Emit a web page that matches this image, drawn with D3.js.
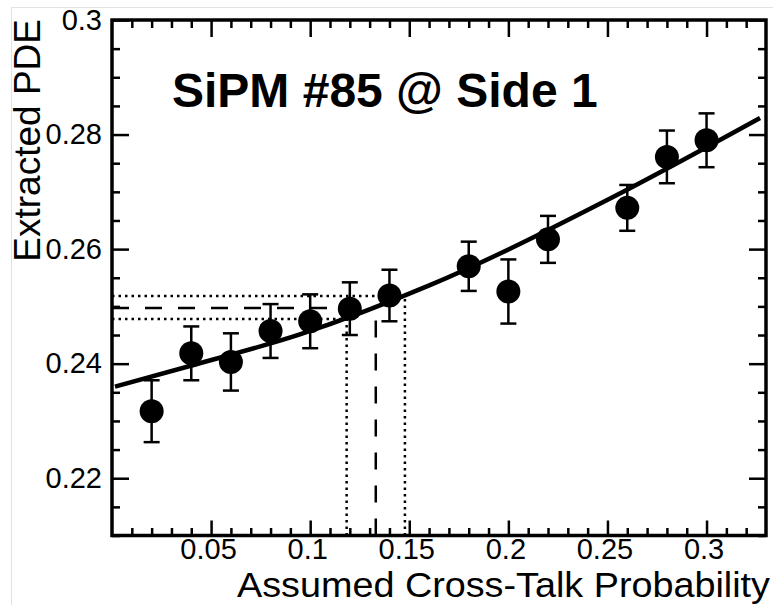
<!DOCTYPE html>
<html lang="en">
	<head>
		<meta charset="utf-8">
		<title>SiPM #85 PDE vs Cross-Talk</title>
		<script src="https://d3js.org/d3.v7.min.js"></script>
		<style type="text/css">
			body {
				margin: 0;
				background: white;
			}
			text {
				font-family: "Liberation Sans", Arial, Helvetica, sans-serif;
				fill: black;
			}
		</style>
	</head>
	<body>
		<script type="text/javascript">

			//Measured points
			var ctp = [0.02, 0.04, 0.06, 0.08, 0.10, 0.12, 0.14, 0.18, 0.20, 0.22, 0.26, 0.28, 0.30];
			var pde = [0.2317, 0.2418, 0.2403, 0.2457, 0.2474, 0.2496, 0.2519, 0.2570, 0.2526, 0.2617, 0.2672, 0.2761, 0.2790];
			var pdeErr = [0.0054, 0.0047, 0.0050, 0.0047, 0.0047, 0.0046, 0.0045, 0.0043, 0.0056, 0.0041, 0.0040, 0.0046, 0.0047];

			//Fit curve
			var fitX = [0.0015, 0.0393, 0.0948, 0.1604, 0.2511, 0.327];
			var fitY = [0.2360, 0.2396, 0.2451, 0.2537, 0.2688, 0.2829];

			//Extracted value and its band
			var markCtp = [0.1184, 0.1331, 0.1478];
			var markPde = [0.2478, 0.2497, 0.2518];
			var markStyle = ["dot", "dash", "dot"];

			//Tick labels
			var xTicks = [0.05, 0.1, 0.15, 0.2, 0.25, 0.3];
			var yTicks = [0.22, 0.24, 0.26, 0.28, 0.3];

			//Width and height
			var w = 773;
			var h = 605;
			var padL = 112, padR = 766, padT = 20, padB = 535.5;

			//Create scale functions
			var xScale = d3.scaleLinear()
					.domain([0, 0.33])
					.range([padL, padR]);

			var yScale = d3.scaleLinear()
					.domain([0.21, 0.3])
					.range([padB, padT]);

			//Minor ticks
			var xMinor = d3.range(1, 33).map(function(i) { return i / 100; })
					.filter(function(d) { return Math.round(d * 100) % 5 != 0; });
			var yMinor = d3.range(0, 19).map(function(i) { return 0.21 + i * 0.005; })
					.filter(function(d) { return Math.round(d * 1000) % 20 != 0 && d < 0.2999; });

			//Create SVG element
			var svg = d3.select("body")
						.append("svg")
						.attr("width", w)
						.attr("height", h);

			//Light page border
			svg.append("rect")
				.attr("x", 11.5)
				.attr("y", 7.5)
				.attr("width", 762)
				.attr("height", 602)
				.attr("fill", "none")
				.attr("stroke", "#e2e2e2")
				.attr("stroke-width", 1);

			//Dashed and dotted guide lines
			var dashes = { dot: "2.5,4", dash: "17,16" };
			markCtp.forEach(function(c, i) {
				svg.append("path")
					.attr("d", "M" + xScale(0) + "," + yScale(markPde[i]) + "H" + xScale(c))
					.attr("fill", "none")
					.attr("stroke", "black")
					.attr("stroke-width", 2.5)
					.attr("stroke-dasharray", dashes[markStyle[i]]);
				svg.append("path")
					.attr("d", "M" + xScale(c) + "," + yScale(0.21) + "V" + yScale(markPde[i]))
					.attr("fill", "none")
					.attr("stroke", "black")
					.attr("stroke-width", 2.5)
					.attr("stroke-dasharray", dashes[markStyle[i]]);
			});

			//Fit curve
			var line = d3.line()
					.x(function(d, i) { return xScale(fitX[i]); })
					.y(function(d, i) { return yScale(fitY[i]); })
					.curve(d3.curveMonotoneX);

			svg.append("path")
				.attr("d", line(fitX))
				.attr("fill", "none")
				.attr("stroke", "black")
				.attr("stroke-width", 4.5);

			//Error bars
			var bars = svg.selectAll("g.err")
				.data(ctp)
				.enter()
				.append("g")
				.attr("class", "err")
				.attr("stroke", "black")
				.attr("stroke-width", 2.5);

			bars.append("line")
				.attr("x1", function(d) { return xScale(d); })
				.attr("x2", function(d) { return xScale(d); })
				.attr("y1", function(d, i) { return yScale(pde[i] - pdeErr[i]); })
				.attr("y2", function(d, i) { return yScale(pde[i] + pdeErr[i]); });

			[-1, 1].forEach(function(s) {
				bars.append("line")
					.attr("x1", function(d) { return xScale(d) - 8; })
					.attr("x2", function(d) { return xScale(d) + 8; })
					.attr("y1", function(d, i) { return yScale(pde[i] + s * pdeErr[i]); })
					.attr("y2", function(d, i) { return yScale(pde[i] + s * pdeErr[i]); });
			});

			//Create circles
			svg.selectAll("circle")
			   .data(ctp)
			   .enter()
			   .append("circle")
			   .attr("cx", function(d) { return xScale(d); })
			   .attr("cy", function(d, i) { return yScale(pde[i]); })
			   .attr("r", 12)
			   .attr("fill", "black");

			//Axes, ticks pointing inward on all four sides
			function styleAxis(g) {
				g.select(".domain").remove();
				g.selectAll(".tick line").attr("stroke", "black").attr("stroke-width", 2.5);
			}

			svg.append("g")
				.attr("transform", "translate(0," + padB + ")")
				.call(d3.axisBottom(xScale).tickValues(xTicks).tickSize(-15).tickPadding(3).tickFormat(function(d) { return d; }))
				.call(styleAxis)
				.selectAll("text")
				.attr("dx", -3)
				.attr("font-size", "29px");

			svg.append("g")
				.attr("transform", "translate(0," + padB + ")")
				.call(d3.axisBottom(xScale).tickValues(xMinor).tickSize(-7.5).tickFormat(""))
				.call(styleAxis);

			svg.append("g")
				.attr("transform", "translate(0," + padT + ")")
				.call(d3.axisTop(xScale).tickValues(xTicks).tickSize(-17).tickFormat(""))
				.call(styleAxis);

			svg.append("g")
				.attr("transform", "translate(0," + padT + ")")
				.call(d3.axisTop(xScale).tickValues(xMinor).tickSize(-8).tickFormat(""))
				.call(styleAxis);

			svg.append("g")
				.attr("transform", "translate(" + padL + ",0)")
				.call(d3.axisLeft(yScale).tickValues(yTicks).tickSize(-17).tickPadding(10).tickFormat(function(d) { return d; }))
				.call(styleAxis)
				.selectAll("text")
				.attr("font-size", "29px");

			svg.append("g")
				.attr("transform", "translate(" + padL + ",0)")
				.call(d3.axisLeft(yScale).tickValues(yMinor).tickSize(-8).tickFormat(""))
				.call(styleAxis);

			svg.append("g")
				.attr("transform", "translate(" + padR + ",0)")
				.call(d3.axisRight(yScale).tickValues(yTicks).tickSize(-17).tickFormat(""))
				.call(styleAxis);

			svg.append("g")
				.attr("transform", "translate(" + padR + ",0)")
				.call(d3.axisRight(yScale).tickValues(yMinor).tickSize(-8).tickFormat(""))
				.call(styleAxis);

			//Frame
			svg.append("rect")
				.attr("x", padL)
				.attr("y", padT)
				.attr("width", padR - padL)
				.attr("height", padB - padT)
				.attr("fill", "none")
				.attr("stroke", "black")
				.attr("stroke-width", 3.5);

			//Titles
			svg.append("text")
				.attr("x", 172)
				.attr("y", 107)
				.attr("font-size", "48px")
				.attr("font-weight", "bold")
				.text("SiPM #85 @ Side 1");

			svg.append("text")
				.attr("x", 237)
				.attr("y", 597)
				.attr("font-size", "35px")
				.attr("textLength", 533)
				.attr("lengthAdjust", "spacingAndGlyphs")
				.text("Assumed Cross-Talk Probability");

			svg.append("text")
				.attr("text-anchor", "end")
				.attr("transform", "translate(40,19) rotate(-90)")
				.attr("font-size", "37px")
				.text("Extracted PDE");

		</script>
	</body>
</html>
